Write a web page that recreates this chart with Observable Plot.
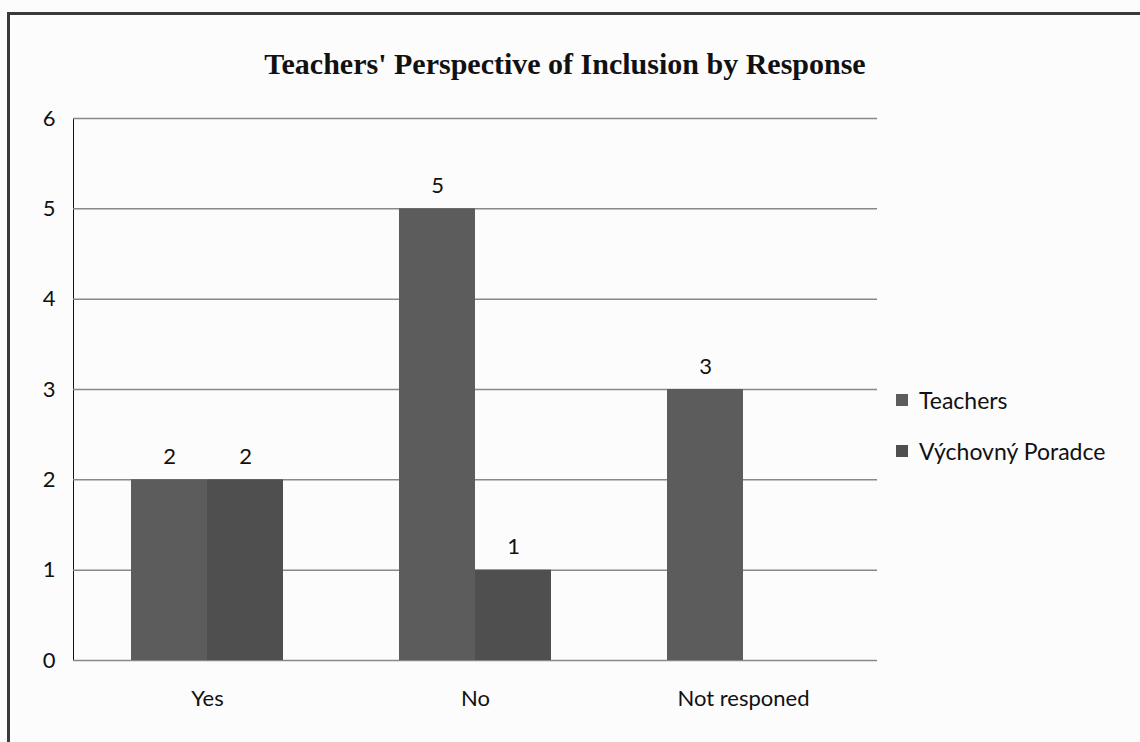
<!DOCTYPE html>
<html>
<head>
<meta charset="utf-8">
<script src="https://cdn.jsdelivr.net/npm/d3@7"></script>
<script src="https://cdn.jsdelivr.net/npm/@observablehq/plot@0.6"></script>
<style>
  html, body { margin: 0; padding: 0; background: #fcfcfc; width: 1140px; height: 742px; overflow: hidden; }
  #frame { position: absolute; left: 7px; top: 12px; width: 1200px; height: 800px;
           border-left: 3px solid #3a3a3a; border-top: 3px solid #3a3a3a; }
  #title { position: absolute; left: 0; width: 1130px; top: 46px; text-align: center; line-height: 36px;
           font-family: "Liberation Serif", "Times New Roman", serif; font-weight: bold; font-size: 30px; color: #111; }
  #chart { position: absolute; left: 0; top: 100px; }
  #legend { position: absolute; left: 896px; top: 386px; font-family: Lato, "Open Sans", sans-serif; font-size: 23px; color: #111; }
  .item { display: flex; align-items: center; height: 28px; margin-bottom: 23px; }
  .sw { width: 12px; height: 12px; margin-right: 11px; }
</style>
</head>
<body>
<div id="frame"></div>
<div id="title">Teachers' Perspective of Inclusion by Response</div>
<div id="chart"></div>
<div id="legend"></div>
<script>
const categories = ["Yes", "No", "Not responed"];
const series = ["Teachers", "Výchovný Poradce"];
const teachers = [2, 5, 3];
const vychovnyPoradce = [2, 1, null];
const seriesColors = ["#5c5c5c", "#4f4f4f"];
const yTicks = [0, 1, 2, 3, 4, 5, 6];

const rows = [];
categories.forEach((c, i) => {
  if (teachers[i] != null) rows.push({category: c, series: series[0], value: teachers[i]});
  if (vychovnyPoradce[i] != null) rows.push({category: c, series: series[1], value: vychovnyPoradce[i]});
});

const chart = Plot.plot({
  width: 900,
  height: 620,
  marginLeft: 72,
  marginRight: 22,
  marginTop: 18,
  marginBottom: 60,
  style: {fontFamily: "Lato, 'Open Sans', sans-serif", fontSize: "22px", color: "#111", background: "transparent"},
  fx: {domain: categories, padding: 0, label: null, tickSize: 0, tickPadding: 30},
  x: {domain: series, axis: null, paddingInner: 0, paddingOuter: 0.75},
  y: {domain: [0, 6], ticks: yTicks, tickFormat: d3.format("d"), tickSize: 0, tickPadding: 18, label: null, line: true},
  color: {domain: series, range: seriesColors},
  marks: [
    Plot.ruleY(yTicks, {stroke: "#888888", strokeWidth: 1.5}),
    Plot.barY(rows, {fx: "category", x: "series", y: "value", fill: "series", inset: 0}),
    Plot.text(rows, {fx: "category", x: "series", y: "value", text: d => String(d.value), dy: -23, fill: "#111", fontSize: 22})
  ]
});
chart.querySelectorAll('[aria-label="y-axis line"] line, [aria-label="y-axis line"]').forEach(el => { el.setAttribute("stroke", "#888888"); el.setAttribute("stroke-width", "1.5"); });
document.getElementById("chart").appendChild(chart);

const legend = document.getElementById("legend");
series.forEach((s, i) => {
  const item = document.createElement("div");
  item.className = "item";
  const sw = document.createElement("div");
  sw.className = "sw";
  sw.style.background = seriesColors[i];
  const label = document.createElement("span");
  label.textContent = s;
  item.appendChild(sw);
  item.appendChild(label);
  legend.appendChild(item);
});
</script>
</body>
</html>
